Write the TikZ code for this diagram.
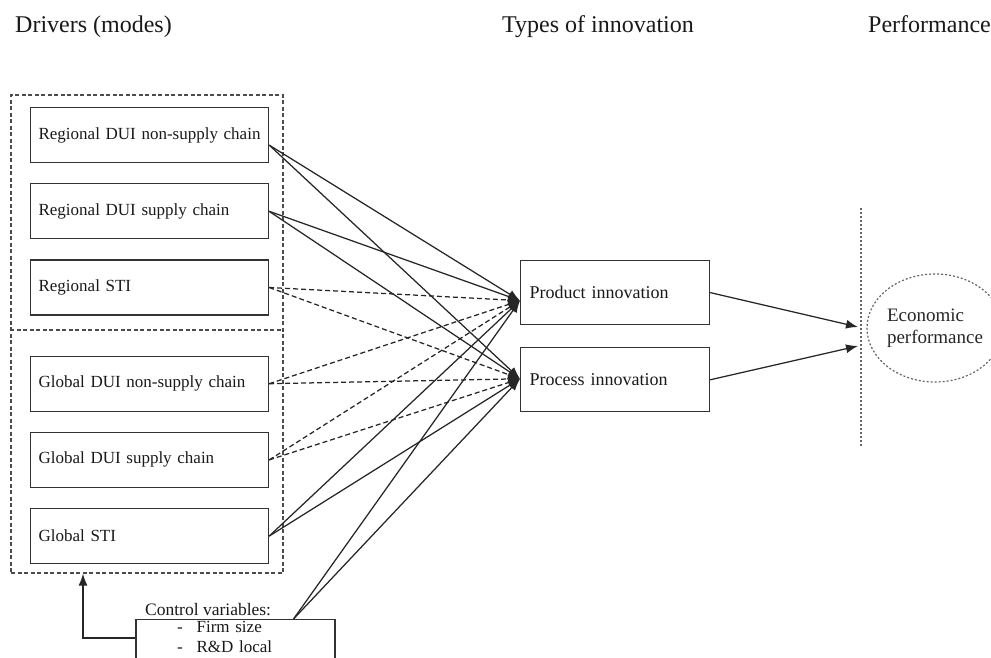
\documentclass[tikz,border=0pt]{standalone}
\usepackage{fontspec}
\setmainfont{Liberation Serif}
\usetikzlibrary{positioning,shapes.geometric}
\usetikzlibrary{arrows.meta}

% narrower word spaces for the box texts
\newcommand{\tightsp}{\spaceskip=3.4pt plus 1.5pt minus 1pt\relax}

\begin{document}
\begin{tikzpicture}[
	  x=1pt, y=-1pt,
	  %style for arrows
	  arrw/.style={line width=1.25pt, draw=black!85, -{Latex[length=12pt,width=9pt]}},
	  %style for dashed arrows
	  darrw/.style={arrw, dash pattern=on 5pt off 3pt},
      % style for driver boxes
      drv/.style={rectangle, draw=black!80, line width=1.2pt, minimum width=238pt, minimum height=55pt, inner xsep=8pt, text width=222pt, align=left, text=black!90, font=\fontsize{17}{20}\selectfont\tightsp},
      % style for innovation boxes
      inn/.style={drv, minimum width=189pt, minimum height=64pt, inner xsep=9pt, text width=171pt, font=\fontsize{18}{21}\selectfont},
      % dashed frame round the drivers
      grp/.style={draw=black!70, line width=1.2pt, dash pattern=on 4pt off 2.5pt},
      % dotted performance line and ellipse
      perf/.style={draw=black!60, line width=1.2pt, dash pattern=on 2pt off 2pt},
      % headings
      hdr/.style={anchor=base west, inner sep=0pt, text=black!90, font=\fontsize{24}{28}\selectfont},
      node distance=20pt]

      \useasboundingbox (0,0) rectangle (991,658);
      \clip (0,0) rectangle (991,658);

      % headings
      \node[hdr] (hdrv) at (15,33) {Drivers (modes)};
      \node[hdr] (htyp) at (502,33) {Types of innovation};
      \node[hdr] (hperf) at (868,33) {Performance};

      % drivers
      \node[grp, minimum width=272pt, minimum height=478pt] (drivers) at (147,334) {};
      \draw[grp] (drivers.west |- 0,330) -- (drivers.east |- 0,330);

      \node[drv, anchor=north west] (rd1) at (30,107) {Regional DUI non-supply chain};
      \node[drv, below=of rd1] (rd2) {Regional DUI supply chain};
      \node[drv, below=of rd2] (rsti) {Regional STI};
      \node[drv, below=40pt of rsti] (gd1) {Global DUI non-supply chain};
      \node[drv, below=of gd1] (gd2) {Global DUI supply chain};
      \node[drv, below=of gd2] (gsti) {Global STI};

      % types of innovation
      \node[inn, anchor=north west] (prod) at (520,260) {Product innovation};
      \node[inn, below=22pt of prod] (proc) {Process innovation};

      % performance
      \draw[perf] (861,208) coordinate (vtop) -- (861,447) coordinate (vbot);
      \node[perf, ellipse, minimum width=136pt, minimum height=108pt, inner sep=0pt, align=left, text=black!85, font=\fontsize{19}{22}\selectfont] (econ) at (935,328) {Economic\\performance};

      % control variables
      \node[anchor=base west, inner sep=0pt, text=black!90, font=\fontsize{17.5}{20}\selectfont] (ctrlhd) at (145,615) {Control variables:};
      \node[draw=black!80, line width=1.2pt, anchor=north, inner xsep=0pt, inner ysep=2pt, text width=199pt, text depth=30pt, align=left, text=black!90, font=\fontsize{17}{20}\selectfont] (ctrl) at (235.5,619)
        {\hspace*{41pt}-\hspace{14pt}Firm size\\\hspace*{41pt}-\hspace{14pt}R\&D local};

      % end points of the connectors
      \coordinate (pin) at ([yshift=-8pt]prod.west);
      \coordinate (qin) at ([yshift=1pt]proc.west);
      \coordinate (rd1o) at ([yshift=-10pt]rd1.east);
      \coordinate (ctrlo) at ([xshift=58pt]ctrl.north);
      \coordinate (ein1) at (858,327);
      \coordinate (ein2) at (858,346);

      % solid and dashed links
      \foreach \s in {rd1o,rd2.east,gsti.east,ctrlo}
        \foreach \t in {pin,qin}
          \draw[arrw] (\s) -- (\t);
      \foreach \s in {rsti.east,gd1.east,gd2.east}
        \foreach \t in {pin,qin}
          \draw[darrw] (\s) -- (\t);

      \draw[arrw] (prod.east) -- (ein1);
      \draw[arrw] (proc.east) -- (ein2);
      \draw[arrw] ([yshift=-19pt]ctrl.north west) -| ([xshift=-64pt]drivers.south);

\end{tikzpicture}
\end{document}
